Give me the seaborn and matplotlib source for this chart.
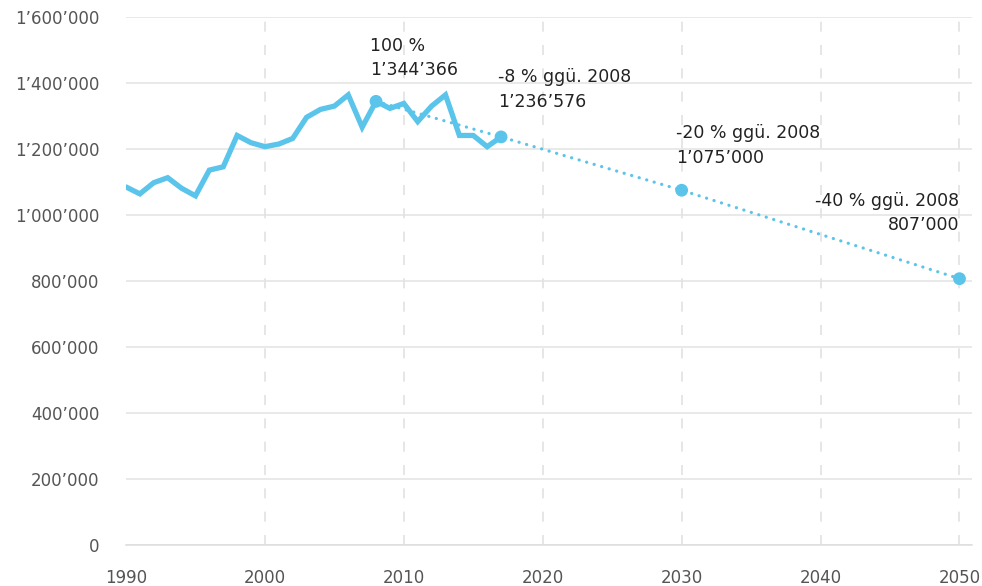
import matplotlib
matplotlib.use("Agg")
import matplotlib.pyplot as plt
from matplotlib.ticker import FuncFormatter, MultipleLocator
import pandas as pd
import seaborn as sns

# historic emissions
years = list(range(1990, 2018))
values = [
    1085000, 1064000, 1098000, 1113000, 1081000, 1058000, 1136000, 1146000,
    1241000, 1219000, 1207000, 1215000, 1232000, 1296000, 1320000, 1330000,
    1364000, 1266000, 1344366, 1323000, 1338000, 1283000, 1330000, 1364000,
    1241000, 1241000, 1207000, 1236576,
]

# target path
target_years = [2008, 2017, 2030, 2050]
target_values = [1344366, 1236576, 1075000, 807000]
target_labels = [
    "100 %\n1’344’366",
    "-8 % ggü. 2008\n1’236’576",
    "-20 % ggü. 2008\n1’075’000",
    "-40 % ggü. 2008\n807’000",
]

BLUE = "#5bc4ea"

sns.set_theme(style="white")
plt.rcParams["font.family"] = ["DejaVu Sans"]

hist = pd.DataFrame({"year": years, "value": values})
target = pd.DataFrame({"year": target_years, "value": target_values})

fig = plt.figure(figsize=(9.82, 5.86), dpi=100)
ax = fig.add_axes([0.1283, 0.07, 0.8615, 0.901])

sns.lineplot(data=target, x="year", y="value", ax=ax, color=BLUE,
             linewidth=2.3, dashes=False, zorder=2)
ax.lines[-1].set_linestyle((0, (0.05, 2.4)))
ax.lines[-1].set_dash_capstyle("round")
sns.lineplot(data=hist, x="year", y="value", ax=ax, color=BLUE,
             linewidth=3.8, zorder=3)
ax.lines[-1].set_solid_joinstyle("miter")
sns.scatterplot(data=target, x="year", y="value", ax=ax, color=BLUE,
                s=85, edgecolor="none", zorder=4)

offsets = [(-4, 16), (-2, 19), (-4, 17), (0, 32)]
aligns = ["left", "left", "left", "right"]
for yr, val, lab, off, ha in zip(target_years, target_values, target_labels,
                                 offsets, aligns):
    ax.annotate(lab, (yr, val), xytext=off, textcoords="offset points",
                ha=ha, va="bottom", fontsize=12.5, color="#222222",
                linespacing=1.45)

ax.set_xlim(1990, 2050.9)
ax.set_ylim(0, 1600000)
ax.xaxis.set_major_locator(MultipleLocator(10))
ax.xaxis.set_minor_locator(MultipleLocator(5))
ax.yaxis.set_major_locator(MultipleLocator(200000))
ax.yaxis.set_major_formatter(
    FuncFormatter(lambda v, p: f"{int(v):,}".replace(",", "’")))

ax.grid(axis="y", color="#e3e3e3", linewidth=1.1)
for x in range(2000, 2051, 10):
    ax.axvline(x, color="#e2e2e2", linewidth=1.2, linestyle=(0, (6, 8)),
               zorder=0)

for s in ["top", "right", "left"]:
    ax.spines[s].set_visible(False)
ax.spines["bottom"].set_color("#dddddd")
ax.spines["bottom"].set_linewidth(1.1)

ax.tick_params(axis="x", which="major", length=7, width=1.1, color="#dddddd",
               labelsize=12, labelcolor="#555555", pad=10)
ax.tick_params(axis="x", which="minor", length=4, width=1.1, color="#dddddd")
ax.tick_params(axis="y", length=0, labelsize=12, labelcolor="#555555", pad=19)
ax.set_xlabel("")
ax.set_ylabel("")

fig.savefig("out.png", dpi=100)
